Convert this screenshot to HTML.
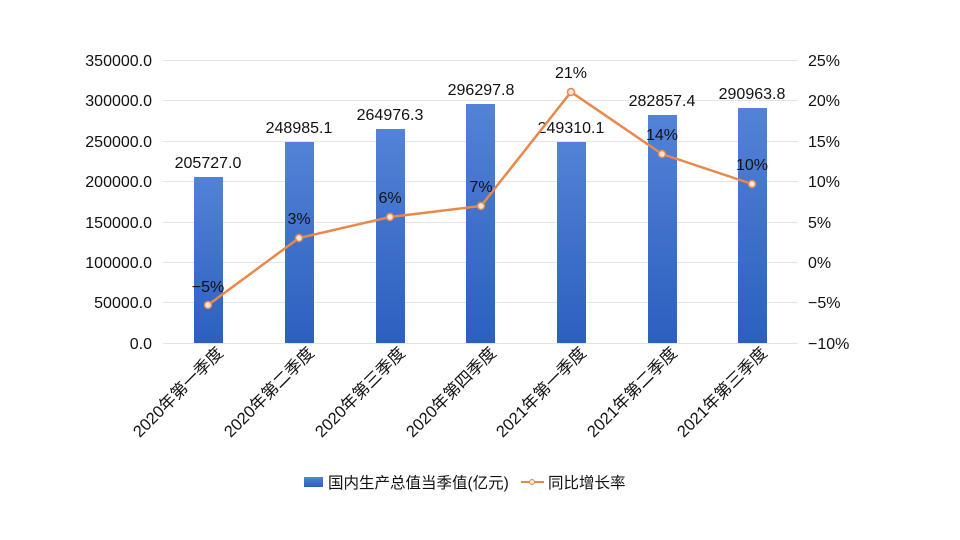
<!DOCTYPE html>
<html><head><meta charset="utf-8"><style>
body{margin:0;background:#fff;}
svg{display:block;font-family:"Liberation Sans","Noto Sans CJK SC",sans-serif;}
</style></head><body>
<svg width="960" height="540" viewBox="0 0 960 540" xmlns="http://www.w3.org/2000/svg">
<defs><linearGradient id="g" x1="0" y1="0" x2="0" y2="1"><stop offset="0" stop-color="#5283d6"/><stop offset="1" stop-color="#2c5fc0"/></linearGradient></defs>
<g stroke="#e3e3e3" stroke-width="1">
<line x1="163" y1="60.5" x2="798" y2="60.5"/><line x1="163" y1="100.5" x2="798" y2="100.5"/><line x1="163" y1="141.5" x2="798" y2="141.5"/><line x1="163" y1="181.5" x2="798" y2="181.5"/><line x1="163" y1="222.5" x2="798" y2="222.5"/><line x1="163" y1="262.5" x2="798" y2="262.5"/><line x1="163" y1="302.5" x2="798" y2="302.5"/><line x1="163" y1="343.5" x2="798" y2="343.5"/>
</g>
<g font-size="16" fill="#111" text-anchor="end">
<text x="152" y="66">350000.0</text><text x="152" y="106">300000.0</text><text x="152" y="147">250000.0</text><text x="152" y="187">200000.0</text><text x="152" y="228">150000.0</text><text x="152" y="268">100000.0</text><text x="152" y="308">50000.0</text><text x="152" y="349">0.0</text>
</g>
<g font-size="16" fill="#111">
<text x="808" y="66">25%</text><text x="808" y="106">20%</text><text x="808" y="147">15%</text><text x="808" y="187">10%</text><text x="808" y="228">5%</text><text x="808" y="268">0%</text><text x="808" y="308">−5%</text><text x="808" y="349">−10%</text>
</g>
<g fill="url(#g)">
<rect x="194" y="177" width="29" height="166"/>
<rect x="285" y="142" width="29" height="201"/>
<rect x="376" y="129" width="29" height="214"/>
<rect x="466" y="104" width="29" height="239"/>
<rect x="557" y="142" width="29" height="201"/>
<rect x="648" y="115" width="29" height="228"/>
<rect x="738" y="108" width="29" height="235"/>
</g>
<g font-size="16" fill="#111" text-anchor="middle">
<text x="208" y="168">205727.0</text><text x="299" y="133">248985.1</text><text x="390" y="120">264976.3</text><text x="481" y="95">296297.8</text><text x="571" y="133">249310.1</text><text x="662" y="106">282857.4</text><text x="752" y="99">290963.8</text>
</g>
<polyline fill="none" stroke="#e8884a" stroke-width="2.5" points="208,305 299,238 390,217 481,206 571,92 662,154 752,184"/>
<g fill="#f6e6dc" stroke="#e8884a" stroke-width="1.5">
<circle cx="208" cy="305" r="3.5"/><circle cx="299" cy="238" r="3.5"/><circle cx="390" cy="217" r="3.5"/><circle cx="481" cy="206" r="3.5"/><circle cx="571" cy="92" r="3.5"/><circle cx="662" cy="154" r="3.5"/><circle cx="752" cy="184" r="3.5"/>
</g>
<g font-size="16" fill="#111" text-anchor="middle">
<text x="208" y="292">−5%</text><text x="299" y="224">3%</text><text x="390" y="203">6%</text><text x="481" y="192">7%</text><text x="571" y="78">21%</text><text x="662" y="140">14%</text><text x="752" y="170">10%</text>
</g>
<g font-size="16.5" fill="#111" text-anchor="end">
<text transform="translate(224,354) rotate(-45)">2020年第一季度</text>
<text transform="translate(315,354) rotate(-45)">2020年第二季度</text>
<text transform="translate(406,354) rotate(-45)">2020年第三季度</text>
<text transform="translate(497,354) rotate(-45)">2020年第四季度</text>
<text transform="translate(587,354) rotate(-45)">2021年第一季度</text>
<text transform="translate(678,354) rotate(-45)">2021年第二季度</text>
<text transform="translate(768,354) rotate(-45)">2021年第三季度</text>
</g>
<rect x="304" y="477" width="19" height="10" fill="url(#g)"/>
<text x="328" y="488" font-size="15.5" fill="#111">国内生产总值当季值(亿元)</text>
<line x1="521" y1="482" x2="544" y2="482" stroke="#e8884a" stroke-width="2"/>
<circle cx="532" cy="482" r="2.5" fill="#f6e6dc" stroke="#e8884a"/>
<text x="548" y="488" font-size="15.5" fill="#111">同比增长率</text>
</svg>
</body></html>
